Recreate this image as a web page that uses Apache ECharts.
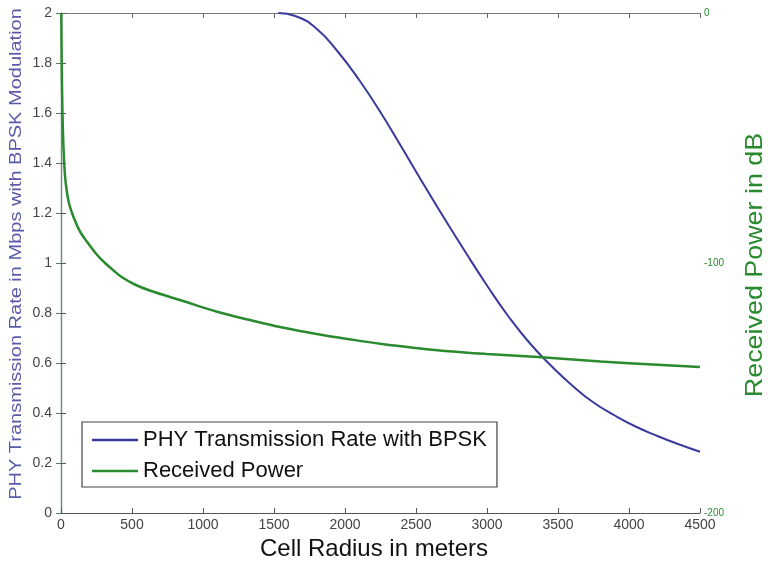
<!DOCTYPE html>
<html>
<head>
<meta charset="utf-8">
<script src="https://cdn.jsdelivr.net/npm/echarts@6/dist/echarts.min.js"></script>
<style>
  html, body { margin: 0; padding: 0; background: #fff; }
  #chart { width: 768px; height: 567px; }
</style>
</head>
<body>
<div id="chart"></div>
<script>
// PHY transmission rate (Mbps, BPSK) versus cell radius (m)
const rateRadius = [1530, 1650, 1800, 1950, 2100, 2250, 2400, 2550, 2700, 2850, 3000,
  3150, 3300, 3450, 3600, 3750, 3900, 4050, 4200, 4350, 4500];
const rateMbps = [2.0, 1.988, 1.937, 1.845, 1.732, 1.603, 1.462, 1.318, 1.178, 1.042, 0.91,
  0.787, 0.68, 0.59, 0.51, 0.442, 0.39, 0.345, 0.308, 0.275, 0.245];

// Received power (dB) versus cell radius (m)
const powerRadius = [2, 5, 9, 14, 20, 28, 40, 56, 75, 98, 140, 190, 250, 310, 370, 430, 520, 625,
  860, 1100, 1330, 1560, 1800, 2030, 2260, 2500, 2730, 3000, 3360, 3800, 4200, 4500];
const powerDb = [0, -20, -36, -48, -57, -65, -71, -76, -79.5, -83, -88, -92, -96.5, -100,
  -103, -105.7, -108.6, -111, -115.2, -119.5, -122.8, -125.8, -128.4, -130.5, -132.4, -134,
  -135.3, -136.4, -137.6, -139.4, -140.7, -141.6];

// Axis settings
const radiusTicks = { min: 0, max: 4500, step: 500 };
const rateTicks = { min: 0, max: 2, step: 0.2 };
const powerTicks = { min: -200, max: 0, step: 20 };
const powerLabelled = [0, -100, -200];

const seriesNames = ['PHY Transmission Rate with BPSK', 'Received Power'];
const titles = {
  x: 'Cell Radius in meters',
  yLeft: 'PHY Transmission Rate in Mbps with BPSK Modulation',
  yRight: 'Received Power in dB'
};

const FONT = '"Liberation Sans", Arial, sans-serif';
const BLUE = '#3a3a9c';
const GREEN = '#2a8a2e';

const zip = (xs, ys) => xs.map((x, i) => [x, ys[i]]);

const chart = echarts.init(document.getElementById('chart'), null, { renderer: 'canvas' });

chart.setOption({
  animation: false,
  backgroundColor: '#ffffff',
  grid: { left: 61, right: 68, top: 13, bottom: 54, containLabel: false },
  legend: {
    orient: 'vertical',
    left: 82,
    top: 422,
    padding: [7, 10, 5, 10],
    itemGap: 9,
    itemWidth: 46,
    itemHeight: 2.5,
    icon: 'rect',
    backgroundColor: '#ffffff',
    borderColor: '#444',
    borderWidth: 1.2,
    borderRadius: 0,
    textStyle: { fontFamily: FONT, fontSize: 22, lineHeight: 22, color: '#111' },
    data: seriesNames
  },
  xAxis: [
    {
      type: 'value',
      position: 'bottom',
      min: radiusTicks.min, max: radiusTicks.max, interval: radiusTicks.step,
      axisLine: { lineStyle: { color: '#555', width: 1.2 } },
      axisTick: { inside: true, length: 5, lineStyle: { color: '#555' } },
      axisLabel: { fontFamily: FONT, fontSize: 14, color: '#444', margin: 5, formatter: v => String(v) },
      splitLine: { show: false }
    },
    {
      type: 'value',
      position: 'top',
      min: radiusTicks.min, max: radiusTicks.max, interval: radiusTicks.step,
      axisLine: { lineStyle: { color: '#777', width: 1.2 } },
      axisTick: { inside: true, length: 5, lineStyle: { color: '#666' } },
      axisLabel: { show: false },
      splitLine: { show: false }
    }
  ],
  yAxis: [
    {
      type: 'value',
      position: 'left',
      min: rateTicks.min, max: rateTicks.max, interval: rateTicks.step,
      axisLine: { show: true, lineStyle: { color: '#555', width: 1.2 } },
      axisTick: { show: true, inside: true, length: 5, lineStyle: { color: '#555' } },
      axisLabel: { fontFamily: FONT, fontSize: 14, color: '#444', margin: 9 },
      splitLine: { show: false }
    },
    {
      type: 'value',
      position: 'right',
      min: powerTicks.min, max: powerTicks.max, interval: powerTicks.step,
      axisLine: { show: true, lineStyle: { color: '#4a9e7a', width: 1.2 } },
      axisTick: { show: true, inside: true, length: 5, lineStyle: { color: '#557a60' } },
      axisLabel: {
        fontFamily: FONT, fontSize: 10, color: GREEN, margin: 4,
        formatter: v => (powerLabelled.indexOf(v) >= 0 ? String(v) : '')
      },
      splitLine: { show: false }
    }
  ],
  series: [
    {
      name: seriesNames[0],
      type: 'line',
      xAxisIndex: 0,
      yAxisIndex: 0,
      data: zip(rateRadius, rateMbps),
      symbol: 'none',
      smooth: 0.5,
      clip: true,
      lineStyle: { color: BLUE, width: 2 },
      itemStyle: { color: BLUE }
    },
    {
      name: seriesNames[1],
      type: 'line',
      xAxisIndex: 0,
      yAxisIndex: 1,
      data: zip(powerRadius, powerDb),
      symbol: 'none',
      smooth: 0.4,
      clip: true,
      lineStyle: { color: GREEN, width: 2.5 },
      itemStyle: { color: GREEN }
    }
  ],
  graphic: [
    {
      type: 'text',
      x: 374, y: 549,
      style: {
        text: titles.x, fontFamily: FONT, fontSize: 24, fill: '#111',
        align: 'center', verticalAlign: 'middle'
      }
    },
    {
      type: 'text',
      x: 17, y: 254,
      rotation: Math.PI / 2,
      scaleX: 1.25,
      style: {
        text: titles.yLeft, fontFamily: FONT, fontSize: 16, fill: '#5a5aa8',
        align: 'center', verticalAlign: 'middle'
      }
    },
    {
      type: 'text',
      x: 755, y: 265,
      rotation: Math.PI / 2,
      scaleX: 1.12,
      style: {
        text: titles.yRight, fontFamily: FONT, fontSize: 24, fill: GREEN,
        align: 'center', verticalAlign: 'middle'
      }
    }
  ]
});
</script>
</body>
</html>
